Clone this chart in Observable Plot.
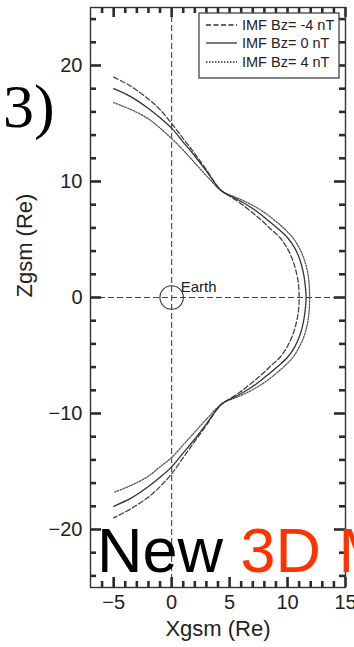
<!DOCTYPE html>
<html>
<head>
<meta charset="utf-8">
<script src="https://cdn.jsdelivr.net/npm/d3@7"></script>
<script src="https://cdn.jsdelivr.net/npm/@observablehq/plot@0.6"></script>
<style>
  html, body { margin: 0; padding: 0; background: white; }
  #wrap { position: relative; width: 354px; height: 647px; overflow: hidden; background: white; }
  #overlay { position: absolute; left: 0; top: 0; pointer-events: none; }
</style>
</head>
<body>
<div id="wrap"></div>
<script>
// ---- data ----
const seriesNames = ["IMF Bz= -4 nT", "IMF Bz= 0 nT", "IMF Bz= 4 nT"];

const bzMinus4X = [-5,-3.5,-2,-1,0,1,2,3,4.2,5.0,5.9,6.8,7.7,8.5,9.35,10.0,10.45,10.75,10.95,11.0,10.95,10.75,10.45,10.0,9.35,8.5,7.7,6.8,5.9,5.0,4.2,3,2,1,0,-1,-2,-3.5,-5];
const bzMinus4Z = [19.0,18.2,17.1,16.2,15.0,13.7,12.4,11.0,9.3,8.75,8.15,7.45,6.7,5.95,5.15,4.2,3.2,2.2,1.1,0,-1.1,-2.2,-3.2,-4.2,-5.15,-5.95,-6.7,-7.45,-8.15,-8.75,-9.3,-11.0,-12.4,-13.8,-15.2,-16.3,-17.2,-18.2,-19.0];

const bz0X = [-5,-3.5,-2,-1,0,1,2,3,4.3,5.3,6.3,7.3,8.3,9.15,10.0,10.6,11.05,11.35,11.52,11.6,11.52,11.35,11.05,10.6,10.0,9.15,8.3,7.3,6.3,5.3,4.3,3,2,1,0,-1,-2,-3.5,-5];
const bz0Z = [18.0,17.3,16.3,15.5,14.6,13.4,12.2,10.9,9.2,8.65,8.1,7.45,6.65,5.95,5.15,4.3,3.3,2.2,1.1,0,-1.1,-2.2,-3.3,-4.3,-5.15,-5.95,-6.65,-7.45,-8.1,-8.65,-9.2,-10.9,-12.2,-13.4,-14.6,-15.5,-16.3,-17.3,-18.0];

const bzPlus4X = [-5,-3.5,-2,-1,0,1,2,3,4.4,5.5,6.8,7.9,8.95,9.7,10.5,11.1,11.5,11.75,11.87,11.9,11.87,11.75,11.5,11.1,10.5,9.7,8.95,7.9,6.8,5.5,4.4,3,2,1,0,-1,-2,-3.5,-5];
const bzPlus4Z = [16.8,16.2,15.4,14.6,13.7,12.7,11.6,10.5,9.1,8.65,8.05,7.4,6.6,5.95,5.1,4.1,3.1,2.1,1.05,0,-1.05,-2.1,-3.1,-4.1,-5.1,-5.95,-6.6,-7.4,-8.05,-8.65,-9.1,-10.5,-11.6,-12.7,-13.8,-14.6,-15.4,-16.2,-16.8];

const earthX = [0];
const earthZ = [0];
const earthLabel = ["Earth"];

const xDomain = [-7, 15];
const yDomain = [-25, 25];
const xTickLabels = [-5, 0, 5, 10, 15];
const xMinorTicks = [-6,-4,-3,-2,-1,1,2,3,4,6,7,8,9,11,12,13,14];
const yTickLabels = [-20, -10, 0, 10, 20];
const yMinorTicks = [-24,-22,-18,-16,-14,-12,-8,-6,-4,-2,2,4,6,8,12,14,16,18,22,24];

const xLabel = "Xgsm (Re)";
const yLabel = "Zgsm (Re)";
const panelTag = "3)";
const bannerBlack = "New ";
const bannerRed = "3D Model";

// ---- tables built from the arrays ----
const toRows = (xs, zs, s) => xs.map((x, i) => ({x, z: zs[i], s}));
const dashedRows = toRows(bzMinus4X, bzMinus4Z, seriesNames[0]);
const solidRows = toRows(bz0X, bz0Z, seriesNames[1]);
const dottedRows = toRows(bzPlus4X, bzPlus4Z, seriesNames[2]);
const earth = earthX.map((x, i) => ({x, z: earthZ[i], label: earthLabel[i]}));
const xMinorRows = xMinorTicks.map((x) => ({x}));
const xMajorRows = xTickLabels.map((x) => ({x}));
const yMinorRows = yMinorTicks.map((y) => ({y}));
const yMajorRows = yTickLabels.map((y) => ({y}));

// layout
const W = 354, H = 647, ML = 90, MR = 9, MT = 7, MB = 60;
const FW = W - ML - MR, FH = H - MT - MB;
const ink = "#333";
const tk = {stroke: "#2b2b2b", strokeWidth: 2.6};
const yPerPx = (yDomain[1] - yDomain[0]) / FH;
const xPerPx = (xDomain[1] - xDomain[0]) / FW;
const minorLen = 6, majorLenX = 10, majorLenY = 11;

const chart = Plot.plot({
  width: W,
  height: H,
  marginLeft: ML,
  marginRight: MR,
  marginTop: MT,
  marginBottom: MB,
  x: {domain: xDomain},
  y: {domain: yDomain},
  style: {fontFamily: "'Liberation Sans', Arial, sans-serif", fontSize: "20px", color: "#222", background: "white", overflow: "visible"},
  marks: [
    Plot.ruleX([0], {stroke: "#444", strokeWidth: 1.1, strokeDasharray: "6,3"}),
    Plot.ruleY([0], {stroke: "#444", strokeWidth: 1.1, strokeDasharray: "6,3"}),
    Plot.dot(earth, {x: "x", y: "z", r: 11.7, stroke: ink, strokeWidth: 1.1, fill: "none"}),
    Plot.text(earth, {x: "x", y: "z", text: "label", dx: 9, dy: -6, textAnchor: "start", lineAnchor: "bottom", fontSize: 15, fill: "#222"}),
    Plot.line(dottedRows, {x: "x", y: "z", curve: "catmull-rom", stroke: "#555", strokeWidth: 1.3, strokeDasharray: "1.5,1.5"}),
    Plot.line(dashedRows, {x: "x", y: "z", curve: "catmull-rom", stroke: "#444", strokeWidth: 1.3, strokeDasharray: "5,2.5"}),
    Plot.line(solidRows, {x: "x", y: "z", curve: "catmull-rom", stroke: "#333", strokeWidth: 1.3}),
    // inward ticks on all four sides
    Plot.ruleX(xMinorRows, {...tk, x: "x", y1: yDomain[0], y2: yDomain[0] + minorLen * yPerPx}),
    Plot.ruleX(xMajorRows, {...tk, x: "x", y1: yDomain[0], y2: yDomain[0] + majorLenX * yPerPx}),
    Plot.ruleX(xMinorRows, {...tk, x: "x", y1: yDomain[1], y2: yDomain[1] - minorLen * yPerPx}),
    Plot.ruleX(xMajorRows, {...tk, x: "x", y1: yDomain[1], y2: yDomain[1] - majorLenX * yPerPx}),
    Plot.ruleY(yMinorRows, {...tk, y: "y", x1: xDomain[0], x2: xDomain[0] + minorLen * xPerPx}),
    Plot.ruleY(yMajorRows, {...tk, y: "y", x1: xDomain[0], x2: xDomain[0] + majorLenY * xPerPx}),
    Plot.ruleY(yMinorRows, {...tk, y: "y", x1: xDomain[1], x2: xDomain[1] - minorLen * xPerPx}),
    Plot.ruleY(yMajorRows, {...tk, y: "y", x1: xDomain[1], x2: xDomain[1] - majorLenY * xPerPx}),
    // tick labels
    Plot.axisX(xTickLabels, {anchor: "bottom", tickSize: 0, tickPadding: 7, label: null, fill: "#222", fontSize: 20}),
    Plot.axisY(yTickLabels, {anchor: "left", tickSize: 0, tickPadding: 8, label: null, fill: "#222", fontSize: 20}),
    Plot.frame({stroke: ink, strokeWidth: 1.4}),
    Plot.text([yLabel], {frameAnchor: "left", dx: -66, rotate: -90, fontSize: 22, fill: "#222"}),
    Plot.text([xLabel], {frameAnchor: "bottom", dy: 48, fontSize: 22, fill: "#222"})
  ]
});

const wrap = document.getElementById("wrap");
wrap.appendChild(chart);

// ---- legend and overlay annotations ----
const NS = "http://www.w3.org/2000/svg";
const ov = document.createElementNS(NS, "svg");
ov.setAttribute("id", "overlay");
ov.setAttribute("width", W);
ov.setAttribute("height", H);
ov.setAttribute("font-family", "'Liberation Sans', Arial, sans-serif");
function el(tag, attrs, text) {
  const e = document.createElementNS(NS, tag);
  for (const k in attrs) e.setAttribute(k, attrs[k]);
  if (text != null) e.textContent = text;
  ov.appendChild(e);
  return e;
}
el("rect", {x: 199, y: 13, width: 140, height: 65, fill: "white", stroke: "#444", "stroke-width": 1.3});
const legendDash = ["5,2.5", null, "1.5,1.5"];
const rowY = [25, 43, 62];
seriesNames.forEach((name, i) => {
  const a = {x1: 206, x2: 237, y1: rowY[i], y2: rowY[i], stroke: "#333", "stroke-width": 1.3};
  if (legendDash[i]) a["stroke-dasharray"] = legendDash[i];
  el("line", a);
  el("text", {x: 242, y: rowY[i] + 5, "font-size": 14.5, fill: "#222"}, name);
});
el("text", {x: 3, y: 127, "font-family": "'Liberation Serif', 'Times New Roman', serif", "font-size": 62, fill: "#000"}, panelTag);
const banner = el("text", {x: 97, y: 572, "font-size": 63, fill: "#000"});
const t1 = document.createElementNS(NS, "tspan"); t1.textContent = bannerBlack; banner.appendChild(t1);
const t2 = document.createElementNS(NS, "tspan"); t2.setAttribute("fill", "#ff3300"); t2.textContent = bannerRed; banner.appendChild(t2);
wrap.appendChild(ov);
</script>
</body>
</html>
